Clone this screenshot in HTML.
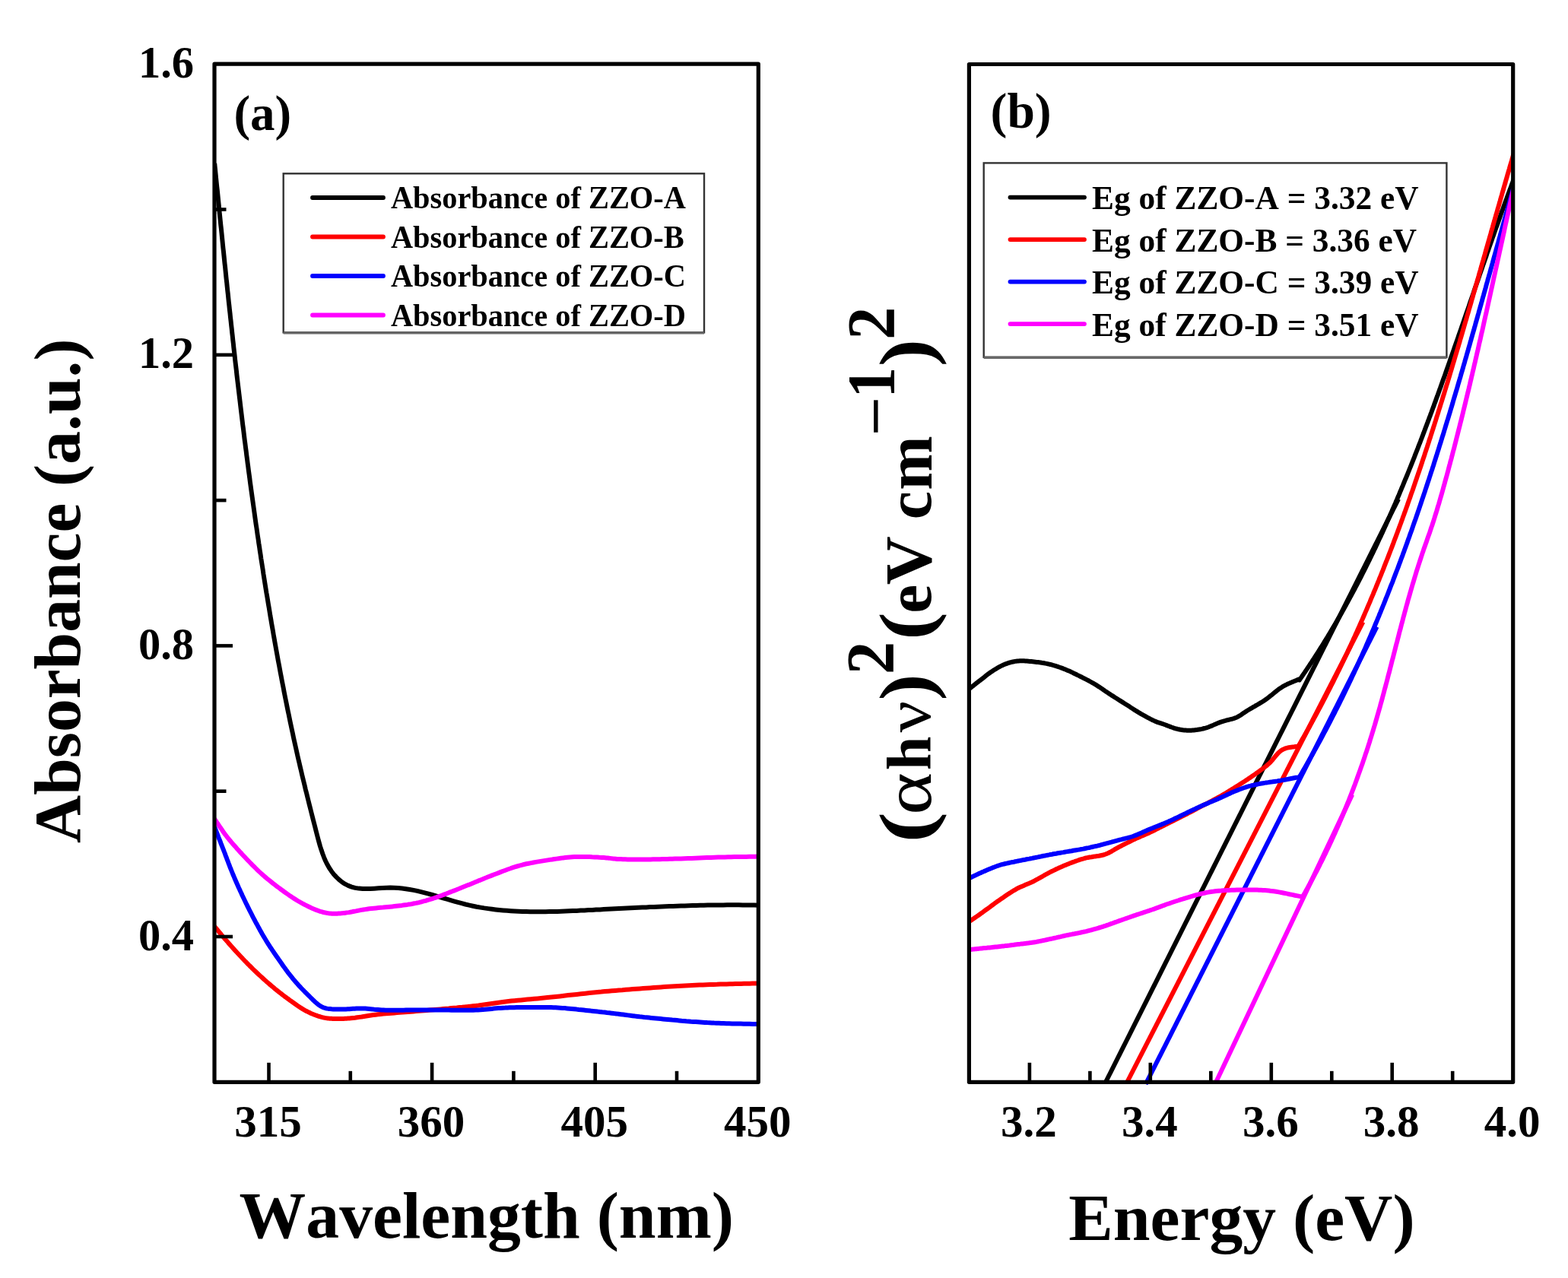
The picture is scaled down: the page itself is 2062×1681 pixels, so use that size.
<!DOCTYPE html><html><head><meta charset="utf-8"><title>Absorbance and band gap</title><style>html,body{margin:0;padding:0;background:#fff;overflow:hidden;}svg{display:block;}text{font-family:'Liberation Serif','Times New Roman',serif;font-weight:bold;font-kerning:none;}</style></head><body>
<svg width="2062" height="1681" viewBox="0 0 2062 1681">
<rect width="2062" height="1681" fill="#fff"/>
<g>
<defs><clipPath id="ca"><rect x="282.0" y="84.2" width="715.3" height="1339.1"/></clipPath>
<clipPath id="cb"><rect x="1274.4" y="84.5" width="715.3" height="1343.8"/></clipPath></defs>
<g clip-path="url(#ca)">
<path d="M282.2,214.9 L282.7,220.0 L283.2,225.1 L283.7,230.1 L284.2,235.2 L284.7,240.2 L285.2,245.3 L285.8,250.4 L286.3,255.4 L286.8,260.5 L287.3,265.5 L287.8,270.6 L288.3,275.7 L288.8,280.7 L289.3,285.8 L289.8,290.8 L290.3,295.9 L290.9,301.0 L291.4,306.0 L291.9,311.1 L292.4,316.1 L292.9,321.2 L293.4,326.2 L294.0,331.3 L294.5,336.4 L295.0,341.4 L295.5,346.5 L296.1,351.5 L296.6,356.6 L297.1,361.6 L297.6,366.7 L298.2,371.7 L298.7,376.8 L299.2,381.8 L299.8,386.9 L300.3,392.0 L300.8,397.0 L301.4,402.1 L301.9,407.1 L302.5,412.2 L303.0,417.2 L303.6,422.3 L304.1,427.3 L304.7,432.4 L305.2,437.4 L305.8,442.5 L306.3,447.5 L306.9,452.5 L307.4,457.6 L308.0,462.6 L308.6,467.7 L309.1,472.7 L309.7,477.8 L310.3,482.8 L310.9,487.9 L311.4,492.9 L312.0,498.0 L312.6,503.0 L313.2,508.0 L313.8,513.1 L314.4,518.1 L315.0,523.2 L315.6,528.2 L316.2,533.3 L316.8,538.3 L317.4,543.3 L318.0,548.4 L318.6,553.4 L319.2,558.5 L319.9,563.5 L320.5,568.5 L321.1,573.6 L321.7,578.6 L322.4,583.6 L323.0,588.7 L323.7,593.7 L324.3,598.8 L325.0,603.8 L325.6,608.8 L326.3,613.9 L326.9,618.9 L327.6,623.9 L328.3,629.0 L328.9,634.0 L329.6,639.0 L330.3,644.1 L331.0,649.1 L331.7,654.1 L332.4,659.2 L333.1,664.2 L333.8,669.2 L334.5,674.2 L335.2,679.3 L335.9,684.3 L336.6,689.3 L337.4,694.4 L338.1,699.4 L338.8,704.4 L339.6,709.4 L340.3,714.5 L341.1,719.5 L341.8,724.5 L342.6,729.5 L343.3,734.6 L344.1,739.6 L344.9,744.6 L345.7,749.6 L346.4,754.7 L347.2,759.7 L348.0,764.7 L348.8,769.7 L349.6,774.7 L350.4,779.8 L351.3,784.8 L352.1,789.8 L352.9,794.8 L353.8,799.8 L354.6,804.8 L355.4,809.9 L356.3,814.9 L357.1,819.9 L358.0,824.9 L358.9,829.9 L359.7,834.9 L360.6,839.9 L361.5,845.0 L362.4,850.0 L363.3,855.0 L364.2,860.0 L365.1,865.0 L366.0,870.0 L367.0,875.0 L367.9,880.0 L368.8,885.0 L369.8,890.0 L370.7,895.0 L371.7,900.0 L372.7,905.0 L373.6,910.0 L374.6,915.0 L375.6,920.0 L376.6,924.9 L377.6,929.9 L378.6,934.9 L379.7,939.9 L380.7,944.8 L381.7,949.8 L382.8,954.8 L383.8,959.7 L384.9,964.7 L385.9,969.6 L387.0,974.6 L388.1,979.5 L389.2,984.4 L390.3,989.4 L391.4,994.3 L392.5,999.2 L393.7,1004.1 L394.8,1009.0 L396.0,1013.9 L397.1,1018.8 L398.3,1023.7 L399.5,1028.6 L400.7,1033.5 L401.8,1038.4 L403.1,1043.3 L404.3,1048.2 L405.5,1053.1 L406.7,1058.0 L408.0,1063.0 L409.2,1067.9 L410.5,1072.9 L411.7,1077.8 L413.0,1082.8 L414.3,1087.8 L415.6,1092.9 L416.9,1097.9 L418.2,1103.0 L419.6,1108.1 L421.0,1113.1 L422.6,1118.1 L424.3,1123.0 L426.1,1127.8 L428.1,1132.5 L430.4,1137.1 L432.9,1141.5 L435.7,1145.7 L438.7,1149.7 L442.1,1153.4 L445.7,1156.9 L449.5,1160.0 L453.6,1162.7 L457.9,1164.9 L462.4,1166.6 L467.1,1167.9 L471.9,1168.6 L476.9,1169.0 L482.0,1169.1 L487.1,1169.0 L492.3,1168.7 L497.6,1168.3 L502.8,1168.0 L508.1,1167.7 L513.3,1167.6 L518.5,1167.7 L523.6,1168.1 L528.7,1168.5 L533.8,1169.2 L538.8,1170.0 L543.8,1170.9 L548.7,1171.9 L553.7,1173.1 L558.6,1174.3 L563.5,1175.6 L568.3,1177.0 L573.2,1178.4 L578.1,1179.8 L582.9,1181.3 L587.7,1182.7 L592.6,1184.2 L597.5,1185.6 L602.3,1186.9 L607.2,1188.2 L612.1,1189.5 L617.0,1190.6 L621.9,1191.7 L626.8,1192.7 L631.8,1193.6 L636.7,1194.4 L641.7,1195.1 L646.7,1195.8 L651.7,1196.4 L656.7,1196.9 L661.7,1197.4 L666.8,1197.8 L671.8,1198.2 L676.8,1198.5 L681.9,1198.7 L687.0,1198.9 L692.0,1199.1 L697.1,1199.2 L702.2,1199.2 L707.3,1199.3 L712.4,1199.2 L717.5,1199.2 L722.6,1199.1 L727.7,1199.0 L732.8,1198.9 L737.9,1198.7 L743.0,1198.5 L748.1,1198.3 L753.2,1198.1 L758.4,1197.9 L763.5,1197.6 L768.6,1197.4 L773.7,1197.1 L778.8,1196.9 L783.8,1196.6 L788.9,1196.4 L794.0,1196.1 L799.1,1195.8 L804.2,1195.6 L809.2,1195.3 L814.3,1195.1 L819.4,1194.8 L824.4,1194.6 L829.5,1194.3 L834.6,1194.1 L839.6,1193.8 L844.7,1193.6 L849.8,1193.4 L854.8,1193.1 L859.9,1192.9 L864.9,1192.7 L870.0,1192.5 L875.0,1192.3 L880.1,1192.1 L885.2,1191.9 L890.2,1191.7 L895.3,1191.5 L900.3,1191.4 L905.4,1191.2 L910.5,1191.1 L915.5,1191.0 L920.6,1190.8 L925.7,1190.7 L930.7,1190.6 L935.8,1190.5 L940.9,1190.5 L946.0,1190.4 L951.1,1190.4 L956.2,1190.3 L961.3,1190.3 L966.4,1190.3 L971.5,1190.3 L976.6,1190.4 L981.7,1190.4 L986.8,1190.5 L991.9,1190.6 L997.0,1190.7" fill="none" stroke="#000" stroke-width="6.0" stroke-linejoin="round"/>
<path d="M282.0,1218.5 L283.7,1220.6 L285.5,1222.6 L287.2,1224.7 L288.9,1226.8 L290.6,1228.8 L292.3,1230.9 L294.1,1232.9 L295.8,1235.0 L297.6,1237.1 L299.4,1239.1 L301.2,1241.2 L303.0,1243.3 L305.0,1245.5 L307.0,1247.8 L309.0,1250.0 L311.1,1252.3 L313.2,1254.5 L315.3,1256.8 L317.4,1259.0 L319.5,1261.3 L321.6,1263.5 L323.8,1265.7 L325.9,1267.9 L328.0,1270.0 L330.1,1272.0 L332.1,1274.1 L334.2,1276.1 L336.2,1278.0 L338.3,1280.0 L340.4,1282.0 L342.5,1283.9 L344.6,1285.8 L346.7,1287.7 L348.8,1289.6 L350.9,1291.5 L353.0,1293.3 L355.1,1295.1 L357.1,1296.8 L359.2,1298.5 L361.2,1300.3 L363.3,1302.0 L365.4,1303.6 L367.5,1305.3 L369.6,1306.9 L371.7,1308.6 L373.8,1310.2 L375.9,1311.7 L378.0,1313.3 L380.1,1314.8 L382.1,1316.3 L384.2,1317.8 L386.3,1319.3 L388.4,1320.8 L390.5,1322.3 L392.6,1323.7 L394.7,1325.1 L396.8,1326.4 L398.8,1327.7 L400.9,1328.9 L403.0,1330.0 L404.8,1330.9 L406.7,1331.8 L408.5,1332.7 L410.4,1333.5 L412.2,1334.2 L414.1,1335.0 L415.9,1335.6 L417.7,1336.3 L419.5,1336.8 L421.3,1337.4 L423.0,1337.9 L424.7,1338.3 L426.0,1338.6 L427.3,1338.9 L428.6,1339.1 L429.9,1339.3 L431.1,1339.4 L432.3,1339.6 L433.5,1339.7 L434.8,1339.8 L436.0,1339.8 L437.3,1339.9 L438.6,1339.9 L440.0,1340.0 L441.6,1340.1 L443.3,1340.1 L445.0,1340.1 L446.7,1340.1 L448.4,1340.1 L450.1,1340.0 L451.9,1339.9 L453.7,1339.8 L455.6,1339.7 L457.5,1339.6 L459.4,1339.5 L461.4,1339.3 L464.1,1339.0 L466.8,1338.7 L469.6,1338.3 L472.5,1337.9 L475.5,1337.5 L478.5,1337.0 L481.5,1336.5 L484.6,1336.0 L487.7,1335.5 L490.8,1335.1 L494.0,1334.7 L497.1,1334.3 L500.5,1333.9 L504.0,1333.6 L507.5,1333.3 L511.1,1333.0 L514.7,1332.7 L518.3,1332.4 L521.9,1332.1 L525.5,1331.8 L529.2,1331.6 L532.8,1331.3 L536.4,1331.0 L540.0,1330.7 L543.6,1330.4 L547.2,1330.1 L550.7,1329.8 L554.3,1329.5 L557.9,1329.2 L561.5,1328.9 L565.0,1328.6 L568.6,1328.3 L572.2,1328.0 L575.8,1327.7 L579.3,1327.4 L582.9,1327.1 L586.5,1326.8 L590.0,1326.5 L593.6,1326.1 L597.2,1325.8 L600.7,1325.5 L604.3,1325.1 L607.9,1324.8 L611.4,1324.4 L615.0,1324.1 L618.6,1323.7 L622.1,1323.3 L625.7,1322.9 L629.3,1322.5 L632.8,1322.0 L636.3,1321.5 L639.9,1321.0 L643.4,1320.5 L646.9,1320.0 L650.4,1319.5 L654.0,1319.0 L657.6,1318.5 L661.2,1318.0 L664.9,1317.5 L668.6,1317.1 L672.7,1316.6 L676.8,1316.2 L681.0,1315.8 L685.2,1315.4 L689.4,1315.0 L693.7,1314.6 L698.0,1314.2 L702.3,1313.8 L706.7,1313.4 L711.1,1313.0 L715.6,1312.6 L720.1,1312.1 L725.3,1311.6 L730.7,1311.0 L736.1,1310.4 L741.6,1309.8 L747.2,1309.1 L752.9,1308.5 L758.5,1307.9 L764.1,1307.3 L769.7,1306.7 L775.2,1306.1 L780.6,1305.5 L785.9,1305.0 L790.7,1304.6 L795.4,1304.1 L800.1,1303.7 L804.7,1303.3 L809.3,1302.9 L813.8,1302.5 L818.4,1302.2 L822.9,1301.8 L827.5,1301.4 L832.0,1301.1 L836.6,1300.7 L841.2,1300.4 L845.8,1300.1 L850.4,1299.7 L855.0,1299.4 L859.6,1299.0 L864.2,1298.7 L868.8,1298.4 L873.4,1298.1 L878.0,1297.8 L882.6,1297.5 L887.2,1297.2 L891.8,1297.0 L896.4,1296.7 L901.0,1296.5 L905.7,1296.2 L910.3,1296.0 L915.0,1295.8 L919.7,1295.6 L924.4,1295.4 L929.0,1295.3 L933.7,1295.1 L938.3,1294.9 L942.8,1294.8 L947.3,1294.6 L951.7,1294.5 L955.6,1294.4 L959.5,1294.3 L963.3,1294.2 L967.1,1294.1 L970.9,1294.0 L974.6,1293.9 L978.4,1293.8 L982.1,1293.7 L985.8,1293.7 L989.5,1293.6 L993.2,1293.5 L997.0,1293.4" fill="none" stroke="#f00" stroke-width="6.0" stroke-linejoin="round"/>
<path d="M282.0,1087.5 L283.1,1090.2 L284.1,1092.9 L285.2,1095.7 L286.3,1098.4 L287.3,1101.1 L288.4,1103.8 L289.5,1106.5 L290.5,1109.3 L291.6,1112.0 L292.6,1114.7 L293.7,1117.3 L294.7,1120.0 L295.7,1122.5 L296.6,1125.1 L297.6,1127.6 L298.5,1130.1 L299.5,1132.6 L300.4,1135.1 L301.4,1137.6 L302.3,1140.1 L303.3,1142.5 L304.3,1145.0 L305.3,1147.5 L306.3,1150.0 L307.4,1152.5 L308.4,1155.0 L309.5,1157.5 L310.6,1160.0 L311.7,1162.5 L312.8,1165.0 L313.9,1167.5 L315.1,1170.0 L316.2,1172.5 L317.4,1175.0 L318.5,1177.5 L319.7,1180.0 L320.9,1182.5 L322.1,1185.0 L323.3,1187.6 L324.6,1190.1 L325.8,1192.6 L327.1,1195.2 L328.3,1197.7 L329.6,1200.2 L330.9,1202.7 L332.1,1205.1 L333.4,1207.6 L334.7,1210.0 L335.9,1212.3 L337.1,1214.6 L338.4,1216.8 L339.6,1219.1 L340.8,1221.3 L342.0,1223.6 L343.3,1225.8 L344.5,1228.0 L345.8,1230.2 L347.1,1232.4 L348.4,1234.5 L349.7,1236.7 L351.0,1238.8 L352.3,1241.0 L353.7,1243.1 L355.0,1245.2 L356.4,1247.2 L357.8,1249.3 L359.2,1251.4 L360.6,1253.5 L362.0,1255.5 L363.4,1257.6 L364.9,1259.6 L366.3,1261.7 L367.8,1263.8 L369.3,1265.9 L370.7,1268.0 L372.2,1270.2 L373.7,1272.3 L375.3,1274.4 L376.8,1276.5 L378.3,1278.6 L379.9,1280.7 L381.5,1282.7 L383.1,1284.7 L384.7,1286.7 L386.3,1288.6 L387.9,1290.5 L389.5,1292.4 L391.2,1294.2 L392.8,1296.1 L394.5,1297.9 L396.2,1299.7 L397.9,1301.5 L399.6,1303.2 L401.3,1305.0 L403.0,1306.6 L404.7,1308.3 L406.3,1309.9 L407.9,1311.5 L409.5,1313.1 L411.1,1314.7 L412.7,1316.2 L414.3,1317.8 L416.0,1319.2 L417.6,1320.6 L419.3,1321.9 L421.1,1323.1 L422.9,1324.1 L424.7,1325.0 L426.5,1325.7 L428.3,1326.2 L430.2,1326.6 L432.1,1326.9 L434.1,1327.1 L436.1,1327.3 L438.1,1327.4 L440.1,1327.4 L442.1,1327.4 L444.1,1327.4 L446.2,1327.5 L448.2,1327.5 L450.4,1327.5 L452.6,1327.5 L454.9,1327.4 L457.2,1327.3 L459.5,1327.2 L461.8,1327.0 L464.1,1326.8 L466.4,1326.7 L468.7,1326.5 L471.1,1326.4 L473.4,1326.4 L475.7,1326.4 L478.1,1326.5 L480.4,1326.6 L482.7,1326.8 L485.1,1327.0 L487.4,1327.2 L489.8,1327.4 L492.1,1327.7 L494.5,1327.9 L496.9,1328.1 L499.3,1328.3 L501.8,1328.5 L504.3,1328.6 L507.1,1328.7 L510.0,1328.7 L512.9,1328.8 L515.8,1328.8 L518.7,1328.8 L521.7,1328.8 L524.7,1328.7 L527.7,1328.7 L530.8,1328.7 L533.8,1328.6 L536.9,1328.6 L540.0,1328.6 L543.4,1328.6 L546.9,1328.6 L550.4,1328.6 L554.0,1328.6 L557.6,1328.6 L561.2,1328.6 L564.8,1328.6 L568.5,1328.6 L572.1,1328.6 L575.7,1328.6 L579.3,1328.6 L582.9,1328.6 L586.5,1328.6 L590.1,1328.6 L593.7,1328.7 L597.3,1328.7 L600.9,1328.8 L604.5,1328.8 L608.1,1328.8 L611.7,1328.8 L615.3,1328.8 L618.8,1328.8 L622.3,1328.7 L625.7,1328.6 L628.8,1328.4 L631.8,1328.3 L634.9,1328.0 L637.8,1327.8 L640.8,1327.5 L643.8,1327.2 L646.7,1326.9 L649.6,1326.6 L652.5,1326.3 L655.5,1326.1 L658.4,1325.9 L661.4,1325.7 L664.4,1325.6 L667.4,1325.4 L670.3,1325.3 L673.3,1325.3 L676.3,1325.2 L679.3,1325.1 L682.3,1325.1 L685.3,1325.1 L688.3,1325.1 L691.2,1325.0 L694.2,1325.0 L697.1,1325.0 L699.9,1325.0 L702.7,1325.0 L705.5,1324.9 L708.3,1324.9 L711.1,1324.9 L713.8,1324.9 L716.6,1324.9 L719.4,1325.0 L722.1,1325.0 L724.9,1325.1 L727.8,1325.2 L730.6,1325.3 L733.6,1325.5 L736.6,1325.7 L739.7,1325.9 L742.7,1326.1 L745.8,1326.4 L748.9,1326.7 L752.0,1327.0 L755.1,1327.3 L758.2,1327.6 L761.2,1328.0 L764.3,1328.3 L767.4,1328.6 L770.5,1328.9 L773.5,1329.2 L776.6,1329.6 L779.7,1329.9 L782.8,1330.2 L785.9,1330.6 L788.9,1330.9 L792.0,1331.3 L795.1,1331.6 L798.2,1332.0 L801.2,1332.3 L804.3,1332.7 L807.4,1333.1 L810.5,1333.4 L813.5,1333.8 L816.6,1334.2 L819.7,1334.6 L822.8,1335.0 L825.8,1335.4 L828.9,1335.8 L832.0,1336.2 L835.1,1336.6 L838.1,1336.9 L841.2,1337.3 L844.3,1337.6 L847.3,1338.0 L850.4,1338.3 L853.5,1338.6 L856.5,1338.9 L859.6,1339.2 L862.7,1339.5 L865.7,1339.8 L868.8,1340.1 L871.9,1340.4 L874.9,1340.7 L878.0,1341.0 L881.1,1341.3 L884.1,1341.6 L887.2,1341.8 L890.3,1342.1 L893.4,1342.4 L896.4,1342.7 L899.5,1342.9 L902.6,1343.2 L905.7,1343.4 L908.7,1343.7 L911.8,1343.9 L914.9,1344.1 L918.0,1344.3 L921.0,1344.5 L924.0,1344.7 L927.0,1344.9 L930.0,1345.1 L933.1,1345.2 L936.1,1345.4 L939.1,1345.6 L942.2,1345.7 L945.3,1345.8 L948.5,1346.0 L951.7,1346.1 L955.3,1346.2 L959.0,1346.3 L962.7,1346.4 L966.4,1346.5 L970.2,1346.6 L974.1,1346.6 L977.9,1346.7 L981.7,1346.8 L985.6,1346.8 L989.4,1346.9 L993.2,1346.9 L997.0,1347.0" fill="none" stroke="#00f" stroke-width="6.0" stroke-linejoin="round"/>
<path d="M282.0,1077.0 L283.3,1078.9 L284.6,1080.8 L285.9,1082.8 L287.2,1084.7 L288.5,1086.6 L289.8,1088.5 L291.1,1090.4 L292.4,1092.3 L293.7,1094.3 L295.1,1096.2 L296.5,1098.1 L298.0,1100.0 L299.6,1102.1 L301.3,1104.2 L303.1,1106.3 L304.8,1108.4 L306.6,1110.5 L308.4,1112.5 L310.3,1114.6 L312.1,1116.7 L314.0,1118.8 L315.9,1120.9 L317.8,1122.9 L319.7,1125.0 L321.7,1127.1 L323.7,1129.3 L325.7,1131.4 L327.8,1133.5 L329.9,1135.7 L332.0,1137.8 L334.1,1139.9 L336.2,1142.0 L338.3,1144.1 L340.4,1146.1 L342.6,1148.1 L344.7,1150.0 L346.7,1151.8 L348.8,1153.6 L350.8,1155.3 L352.9,1157.0 L355.0,1158.7 L357.1,1160.4 L359.2,1162.1 L361.3,1163.7 L363.4,1165.3 L365.5,1166.9 L367.6,1168.4 L369.7,1170.0 L371.8,1171.5 L373.8,1173.0 L375.9,1174.5 L377.9,1175.9 L380.0,1177.4 L382.1,1178.8 L384.2,1180.2 L386.3,1181.6 L388.4,1182.9 L390.5,1184.2 L392.6,1185.5 L394.7,1186.7 L396.8,1187.8 L398.9,1189.0 L401.0,1190.1 L403.1,1191.2 L405.3,1192.3 L407.4,1193.3 L409.5,1194.3 L411.6,1195.2 L413.7,1196.1 L415.8,1196.9 L417.8,1197.6 L419.7,1198.3 L421.2,1198.8 L422.6,1199.2 L424.0,1199.6 L425.4,1200.0 L426.8,1200.3 L428.1,1200.6 L429.5,1200.8 L430.8,1201.1 L432.2,1201.3 L433.5,1201.4 L434.9,1201.6 L436.3,1201.7 L437.8,1201.8 L439.2,1201.8 L440.6,1201.8 L442.1,1201.8 L443.5,1201.7 L445.0,1201.6 L446.5,1201.5 L448.0,1201.4 L449.5,1201.2 L451.1,1201.1 L452.7,1200.9 L454.3,1200.7 L456.4,1200.4 L458.7,1200.1 L460.9,1199.7 L463.2,1199.3 L465.6,1198.8 L468.0,1198.4 L470.4,1197.9 L472.9,1197.4 L475.4,1196.9 L477.9,1196.5 L480.4,1196.1 L482.9,1195.7 L485.7,1195.3 L488.7,1195.0 L491.6,1194.7 L494.6,1194.4 L497.7,1194.1 L500.7,1193.8 L503.8,1193.6 L506.9,1193.3 L509.9,1193.0 L512.8,1192.7 L515.8,1192.4 L518.6,1192.1 L521.1,1191.8 L523.6,1191.5 L526.1,1191.2 L528.5,1190.9 L530.9,1190.5 L533.3,1190.2 L535.7,1189.9 L538.0,1189.5 L540.4,1189.2 L542.6,1188.8 L544.9,1188.3 L547.1,1187.9 L549.0,1187.5 L550.9,1187.1 L552.7,1186.6 L554.5,1186.2 L556.3,1185.7 L558.1,1185.2 L559.8,1184.8 L561.6,1184.2 L563.3,1183.7 L565.1,1183.2 L566.8,1182.7 L568.6,1182.1 L570.4,1181.5 L572.2,1180.9 L573.9,1180.3 L575.6,1179.7 L577.4,1179.1 L579.1,1178.4 L580.9,1177.8 L582.7,1177.1 L584.5,1176.4 L586.3,1175.7 L588.1,1175.0 L590.0,1174.3 L592.2,1173.4 L594.5,1172.5 L596.9,1171.6 L599.2,1170.7 L601.6,1169.7 L604.1,1168.8 L606.5,1167.8 L608.9,1166.8 L611.4,1165.8 L613.8,1164.8 L616.2,1163.9 L618.6,1162.9 L621.0,1161.9 L623.3,1161.0 L625.6,1160.0 L628.0,1159.1 L630.3,1158.1 L632.6,1157.2 L635.0,1156.2 L637.3,1155.2 L639.7,1154.3 L642.1,1153.3 L644.6,1152.4 L647.1,1151.4 L649.9,1150.3 L652.8,1149.2 L655.7,1148.1 L658.7,1146.9 L661.6,1145.8 L664.6,1144.7 L667.7,1143.5 L670.7,1142.5 L673.7,1141.4 L676.8,1140.4 L679.9,1139.5 L682.9,1138.6 L686.0,1137.8 L689.0,1137.0 L692.1,1136.3 L695.2,1135.7 L698.3,1135.1 L701.5,1134.5 L704.6,1133.9 L707.7,1133.4 L710.8,1132.9 L713.9,1132.4 L717.0,1131.9 L720.1,1131.4 L723.0,1130.9 L726.0,1130.5 L728.9,1130.0 L731.8,1129.6 L734.7,1129.2 L737.6,1128.8 L740.5,1128.4 L743.4,1128.1 L746.3,1127.8 L749.3,1127.5 L752.2,1127.3 L755.2,1127.1 L758.4,1127.0 L761.7,1126.9 L765.1,1126.9 L768.5,1126.9 L771.9,1127.0 L775.3,1127.1 L778.7,1127.3 L782.0,1127.4 L785.2,1127.6 L788.3,1127.8 L791.2,1127.9 L794.0,1128.1 L795.8,1128.2 L797.5,1128.4 L799.2,1128.5 L800.7,1128.7 L802.2,1128.9 L803.7,1129.1 L805.2,1129.3 L806.7,1129.4 L808.2,1129.6 L809.9,1129.7 L811.6,1129.9 L813.4,1130.0 L816.2,1130.1 L819.1,1130.2 L822.2,1130.3 L825.3,1130.4 L828.6,1130.4 L832.0,1130.4 L835.4,1130.5 L838.8,1130.5 L842.2,1130.5 L845.6,1130.4 L848.9,1130.4 L852.2,1130.4 L855.4,1130.4 L858.6,1130.3 L861.7,1130.3 L864.8,1130.2 L868.0,1130.2 L871.1,1130.1 L874.3,1130.0 L877.5,1129.9 L880.7,1129.8 L884.1,1129.7 L887.5,1129.6 L891.0,1129.5 L895.5,1129.4 L900.1,1129.2 L904.9,1129.0 L909.7,1128.9 L914.7,1128.7 L919.7,1128.5 L924.8,1128.3 L929.8,1128.1 L934.8,1127.9 L939.7,1127.8 L944.5,1127.6 L949.2,1127.5 L953.3,1127.4 L957.4,1127.3 L961.5,1127.2 L965.5,1127.1 L969.4,1127.1 L973.4,1127.0 L977.3,1126.9 L981.2,1126.9 L985.2,1126.8 L989.1,1126.7 L993.0,1126.7 L997.0,1126.6" fill="none" stroke="#f0f" stroke-width="6.0" stroke-linejoin="round"/>
</g>
<g clip-path="url(#cb)">
<path d="M1454.2,1423.0 L1839.0,656.4" stroke="#000" stroke-width="6.0" fill="none"/>
<path d="M1482.4,1423.0 L1792.4,818.2" stroke="#f00" stroke-width="6.0" fill="none"/>
<path d="M1506.6,1426.0 L1810.6,824.3" stroke="#00f" stroke-width="6.0" fill="none"/>
<path d="M1598.8,1424.0 L1778.2,1045.2" stroke="#f0f" stroke-width="6.0" fill="none"/>
<path d="M1274.6,906.1 L1275.8,905.1 L1277.1,904.1 L1278.3,903.1 L1279.6,902.2 L1280.8,901.2 L1282.1,900.2 L1283.3,899.2 L1284.6,898.2 L1285.8,897.2 L1287.1,896.3 L1288.3,895.3 L1289.6,894.3 L1290.9,893.3 L1292.2,892.3 L1293.5,891.3 L1294.8,890.3 L1296.1,889.2 L1297.4,888.2 L1298.7,887.2 L1300.0,886.2 L1301.3,885.3 L1302.7,884.3 L1304.0,883.4 L1305.4,882.5 L1306.8,881.6 L1308.1,880.8 L1309.5,879.9 L1310.9,879.1 L1312.3,878.2 L1313.8,877.4 L1315.2,876.6 L1316.6,875.9 L1318.1,875.2 L1319.5,874.5 L1320.9,873.9 L1322.4,873.3 L1323.8,872.8 L1325.2,872.3 L1326.5,871.9 L1327.9,871.5 L1329.3,871.1 L1330.7,870.8 L1332.1,870.5 L1333.5,870.2 L1335.0,869.9 L1336.4,869.7 L1337.9,869.5 L1339.4,869.4 L1341.1,869.3 L1342.9,869.2 L1344.8,869.2 L1346.7,869.3 L1348.5,869.4 L1350.4,869.5 L1352.4,869.7 L1354.3,869.9 L1356.2,870.1 L1358.0,870.3 L1359.9,870.5 L1361.7,870.7 L1363.4,870.9 L1365.1,871.1 L1366.7,871.3 L1368.4,871.5 L1370.0,871.8 L1371.6,872.0 L1373.2,872.3 L1374.8,872.6 L1376.5,872.9 L1378.1,873.3 L1379.7,873.6 L1381.3,874.0 L1382.9,874.4 L1384.6,874.9 L1386.2,875.3 L1387.9,875.8 L1389.5,876.4 L1391.1,876.9 L1392.8,877.5 L1394.4,878.0 L1396.0,878.6 L1397.7,879.2 L1399.3,879.9 L1400.9,880.5 L1402.6,881.2 L1404.2,881.9 L1405.9,882.6 L1407.5,883.3 L1409.2,884.1 L1410.8,884.9 L1412.4,885.7 L1414.1,886.5 L1415.7,887.3 L1417.3,888.1 L1419.0,888.9 L1420.6,889.7 L1422.2,890.5 L1423.9,891.4 L1425.5,892.2 L1427.2,893.0 L1428.8,893.9 L1430.5,894.7 L1432.1,895.6 L1433.7,896.5 L1435.3,897.4 L1437.0,898.3 L1438.6,899.2 L1440.2,900.2 L1441.9,901.2 L1443.5,902.3 L1445.2,903.3 L1446.8,904.4 L1448.4,905.5 L1450.1,906.6 L1451.7,907.8 L1453.3,908.9 L1455.0,910.0 L1456.6,911.1 L1458.3,912.2 L1459.9,913.3 L1461.5,914.4 L1463.2,915.4 L1464.8,916.4 L1466.4,917.5 L1468.1,918.5 L1469.7,919.5 L1471.3,920.6 L1473.0,921.6 L1474.6,922.6 L1476.2,923.6 L1477.9,924.7 L1479.5,925.7 L1481.1,926.7 L1482.8,927.8 L1484.4,928.8 L1486.0,929.9 L1487.6,931.0 L1489.3,932.0 L1490.9,933.1 L1492.5,934.1 L1494.2,935.1 L1495.8,936.1 L1497.4,937.1 L1499.1,938.1 L1500.7,939.1 L1502.4,940.0 L1504.1,941.0 L1505.8,941.9 L1507.5,942.9 L1509.2,943.8 L1510.9,944.7 L1512.6,945.6 L1514.2,946.4 L1515.8,947.2 L1517.3,947.9 L1518.8,948.6 L1519.8,949.0 L1520.8,949.4 L1521.7,949.8 L1522.6,950.1 L1523.5,950.4 L1524.4,950.7 L1525.3,951.0 L1526.2,951.2 L1527.1,951.5 L1528.0,951.8 L1529.0,952.2 L1530.0,952.5 L1531.4,953.0 L1532.8,953.5 L1534.3,954.1 L1535.8,954.7 L1537.4,955.3 L1538.9,955.9 L1540.5,956.5 L1542.1,957.0 L1543.7,957.6 L1545.3,958.1 L1546.9,958.5 L1548.4,958.9 L1549.8,959.2 L1551.2,959.5 L1552.5,959.8 L1553.9,960.0 L1555.3,960.2 L1556.6,960.4 L1558.0,960.5 L1559.4,960.6 L1560.7,960.7 L1562.1,960.8 L1563.6,960.8 L1565.0,960.8 L1566.6,960.7 L1568.3,960.6 L1569.9,960.5 L1571.6,960.3 L1573.3,960.1 L1575.0,959.8 L1576.8,959.5 L1578.5,959.2 L1580.2,958.9 L1581.9,958.5 L1583.6,958.0 L1585.3,957.6 L1587.1,957.1 L1588.9,956.5 L1590.6,955.8 L1592.4,955.1 L1594.2,954.4 L1595.9,953.6 L1597.7,952.8 L1599.5,952.1 L1601.2,951.3 L1603.0,950.6 L1604.8,949.9 L1606.5,949.3 L1608.1,948.8 L1609.8,948.3 L1611.5,947.9 L1613.1,947.4 L1614.8,947.0 L1616.5,946.6 L1618.1,946.2 L1619.7,945.8 L1621.3,945.4 L1622.9,944.9 L1624.4,944.3 L1625.9,943.7 L1627.2,943.1 L1628.5,942.4 L1629.7,941.7 L1630.9,941.0 L1632.1,940.2 L1633.2,939.4 L1634.4,938.6 L1635.6,937.8 L1636.8,937.0 L1638.0,936.2 L1639.3,935.3 L1640.6,934.5 L1642.3,933.5 L1644.1,932.4 L1646.0,931.3 L1647.9,930.2 L1649.9,929.1 L1651.8,927.9 L1653.8,926.8 L1655.8,925.6 L1657.8,924.4 L1659.8,923.2 L1661.7,922.0 L1663.6,920.7 L1665.6,919.3 L1667.5,917.9 L1669.4,916.4 L1671.3,914.8 L1673.3,913.3 L1675.2,911.7 L1677.1,910.2 L1679.0,908.6 L1680.9,907.2 L1682.8,905.7 L1684.8,904.4 L1686.7,903.2 L1688.5,902.2 L1690.2,901.3 L1692.0,900.4 L1693.7,899.5 L1695.5,898.8 L1697.3,898.0 L1699.0,897.3 L1700.8,896.5 L1702.6,895.8 L1704.4,895.1 L1706.1,894.3 L1707.9,893.5 L1708.9,894.4 L1710.3,892.4 L1711.7,890.4 L1713.0,888.4 L1714.4,886.4 L1715.8,884.4 L1717.1,882.4 L1718.5,880.4 L1719.8,878.4 L1721.2,876.3 L1722.5,874.3 L1723.9,872.3 L1725.2,870.3 L1726.5,868.2 L1727.9,866.2 L1729.2,864.2 L1730.5,862.1 L1731.8,860.1 L1733.1,858.1 L1734.4,856.0 L1735.7,854.0 L1737.0,851.9 L1738.3,849.9 L1739.6,847.8 L1740.8,845.8 L1742.1,843.7 L1743.4,841.6 L1744.6,839.6 L1745.9,837.5 L1747.1,835.4 L1748.4,833.4 L1749.6,831.3 L1750.9,829.2 L1752.1,827.1 L1753.3,825.0 L1754.5,823.0 L1755.8,820.9 L1757.0,818.8 L1758.2,816.7 L1759.4,814.6 L1760.6,812.5 L1761.8,810.4 L1763.0,808.3 L1764.2,806.2 L1765.4,804.1 L1766.6,802.0 L1767.7,799.9 L1768.9,797.8 L1770.1,795.7 L1771.2,793.6 L1772.4,791.5 L1773.5,789.3 L1774.7,787.2 L1775.8,785.1 L1777.0,783.0 L1778.1,780.8 L1779.3,778.7 L1780.4,776.6 L1781.5,774.5 L1782.6,772.3 L1783.8,770.2 L1784.9,768.1 L1786.0,765.9 L1787.1,763.8 L1788.2,761.6 L1789.3,759.5 L1790.4,757.3 L1791.5,755.2 L1792.6,753.0 L1793.7,750.9 L1794.8,748.7 L1795.8,746.6 L1796.9,744.4 L1798.0,742.2 L1799.0,740.1 L1800.1,737.9 L1801.2,735.8 L1802.2,733.6 L1803.3,731.4 L1804.3,729.3 L1805.4,727.1 L1806.4,724.9 L1807.5,722.7 L1808.5,720.6 L1809.5,718.4 L1810.6,716.2 L1811.6,714.0 L1812.6,711.8 L1813.6,709.6 L1814.6,707.5 L1815.7,705.3 L1816.7,703.1 L1817.7,700.9 L1818.7,698.7 L1819.7,696.5 L1820.7,694.3 L1821.7,692.1 L1822.7,689.9 L1823.6,687.7 L1824.6,685.5 L1825.6,683.3 L1826.6,681.1 L1827.6,678.9 L1828.5,676.7 L1829.5,674.5 L1830.5,672.2 L1831.4,670.0 L1832.4,667.8 L1833.4,665.6 L1834.3,663.4 L1835.3,661.2 L1836.2,658.9 L1837.2,656.7 L1838.1,654.5 L1839.1,652.3 L1840.0,650.1 L1840.9,647.8 L1841.9,645.6 L1842.8,643.4 L1843.7,641.1 L1844.7,638.9 L1845.6,636.7 L1846.5,634.4 L1847.4,632.2 L1848.3,630.0 L1849.3,627.7 L1850.2,625.5 L1851.1,623.3 L1852.0,621.0 L1852.9,618.8 L1853.8,616.5 L1854.7,614.3 L1855.6,612.1 L1856.5,609.8 L1857.4,607.6 L1858.3,605.3 L1859.2,603.1 L1860.1,600.8 L1860.9,598.6 L1861.8,596.3 L1862.7,594.1 L1863.6,591.8 L1864.5,589.5 L1865.3,587.3 L1866.2,585.0 L1867.1,582.8 L1868.0,580.5 L1868.8,578.3 L1869.7,576.0 L1870.6,573.7 L1871.4,571.5 L1872.3,569.2 L1873.1,567.0 L1874.0,564.7 L1874.8,562.4 L1875.7,560.2 L1876.5,557.9 L1877.4,555.6 L1878.2,553.4 L1879.1,551.1 L1879.9,548.8 L1880.8,546.6 L1881.6,544.3 L1882.5,542.0 L1883.3,539.7 L1884.1,537.5 L1885.0,535.2 L1885.8,532.9 L1886.6,530.6 L1887.5,528.4 L1888.3,526.1 L1889.1,523.8 L1889.9,521.5 L1890.8,519.3 L1891.6,517.0 L1892.4,514.7 L1893.2,512.4 L1894.1,510.1 L1894.9,507.9 L1895.7,505.6 L1896.5,503.3 L1897.3,501.0 L1898.1,498.7 L1899.0,496.5 L1899.8,494.2 L1900.6,491.9 L1901.4,489.6 L1902.2,487.3 L1903.0,485.0 L1903.8,482.8 L1904.6,480.5 L1905.4,478.2 L1906.2,475.9 L1907.0,473.6 L1907.8,471.3 L1908.6,469.0 L1909.4,466.8 L1910.2,464.5 L1911.0,462.2 L1911.8,459.9 L1912.6,457.6 L1913.4,455.3 L1914.2,453.0 L1915.0,450.7 L1915.8,448.5 L1916.6,446.2 L1917.4,443.9 L1918.2,441.6 L1919.0,439.3 L1919.8,437.0 L1920.6,434.7 L1921.4,432.4 L1922.2,430.1 L1923.0,427.9 L1923.8,425.6 L1924.6,423.3 L1925.3,421.0 L1926.1,418.7 L1926.9,416.4 L1927.7,414.1 L1928.5,411.8 L1929.3,409.5 L1930.1,407.3 L1930.9,405.0 L1931.7,402.7 L1932.4,400.4 L1933.2,398.1 L1934.0,395.8 L1934.8,393.5 L1935.6,391.2 L1936.4,389.0 L1937.2,386.7 L1938.0,384.4 L1938.7,382.1 L1939.5,379.8 L1940.3,377.5 L1941.1,375.2 L1941.9,372.9 L1942.7,370.7 L1943.5,368.4 L1944.3,366.1 L1945.1,363.8 L1945.8,361.5 L1946.6,359.2 L1947.4,356.9 L1948.2,354.7 L1949.0,352.4 L1949.8,350.1 L1950.6,347.8 L1951.4,345.5 L1952.2,343.2 L1953.0,341.0 L1953.8,338.7 L1954.6,336.4 L1955.3,334.1 L1956.1,331.8 L1956.9,329.6 L1957.7,327.3 L1958.5,325.0 L1959.3,322.7 L1960.1,320.4 L1960.9,318.2 L1961.7,315.9 L1962.5,313.6 L1963.3,311.3 L1964.1,309.1 L1964.9,306.8 L1965.7,304.5 L1966.5,302.3 L1967.3,300.0 L1968.2,297.7 L1969.0,295.4 L1969.8,293.2 L1970.6,290.9 L1971.4,288.6 L1972.2,286.4 L1973.0,284.1 L1973.8,281.8 L1974.6,279.6 L1975.4,277.3 L1976.3,275.0 L1977.1,272.8 L1977.9,270.5 L1978.7,268.2 L1979.5,266.0 L1980.4,263.7 L1981.2,261.5 L1982.0,259.2 L1982.8,257.0 L1983.7,254.7 L1984.5,252.4 L1985.3,250.2 L1986.2,247.9 L1987.0,245.7 L1987.8,243.4 L1988.7,241.2 L1989.5,238.9 L1990.3,236.7 L1991.2,234.4 L1992.0,232.2" fill="none" stroke="#000" stroke-width="6.0" stroke-linejoin="round"/>
<path d="M1275.6,1211.6 L1277.0,1210.6 L1278.4,1209.7 L1279.7,1208.7 L1281.1,1207.8 L1282.4,1206.8 L1283.8,1205.9 L1285.2,1204.9 L1286.6,1204.0 L1288.0,1203.0 L1289.4,1202.0 L1290.8,1200.9 L1292.3,1199.9 L1294.0,1198.6 L1295.8,1197.3 L1297.6,1196.0 L1299.5,1194.7 L1301.4,1193.3 L1303.2,1191.9 L1305.1,1190.5 L1307.0,1189.1 L1308.9,1187.7 L1310.8,1186.3 L1312.7,1185.0 L1314.6,1183.7 L1316.4,1182.4 L1318.3,1181.2 L1320.1,1179.9 L1322.0,1178.6 L1323.8,1177.3 L1325.7,1176.1 L1327.5,1174.9 L1329.4,1173.7 L1331.2,1172.5 L1333.1,1171.4 L1335.0,1170.3 L1336.9,1169.2 L1338.7,1168.2 L1340.6,1167.3 L1342.4,1166.5 L1344.3,1165.7 L1346.2,1164.9 L1348.0,1164.1 L1349.9,1163.3 L1351.8,1162.5 L1353.6,1161.8 L1355.5,1160.9 L1357.4,1160.1 L1359.2,1159.2 L1361.1,1158.2 L1362.9,1157.2 L1364.8,1156.2 L1366.6,1155.2 L1368.5,1154.1 L1370.3,1153.1 L1372.2,1152.0 L1374.0,1150.9 L1375.9,1149.9 L1377.8,1148.9 L1379.6,1147.9 L1381.5,1146.9 L1383.3,1146.0 L1385.2,1145.1 L1387.1,1144.2 L1388.9,1143.3 L1390.8,1142.4 L1392.6,1141.6 L1394.5,1140.8 L1396.4,1139.9 L1398.3,1139.1 L1400.1,1138.3 L1402.0,1137.6 L1403.9,1136.8 L1405.7,1136.1 L1407.6,1135.3 L1409.4,1134.6 L1411.2,1133.9 L1413.0,1133.3 L1414.8,1132.6 L1416.7,1132.0 L1418.5,1131.3 L1420.4,1130.7 L1422.3,1130.1 L1424.2,1129.6 L1426.2,1129.0 L1428.4,1128.4 L1430.7,1128.0 L1433.1,1127.5 L1435.5,1127.2 L1437.9,1126.8 L1440.4,1126.4 L1442.8,1126.1 L1445.2,1125.7 L1447.5,1125.2 L1449.8,1124.7 L1452.0,1124.2 L1454.0,1123.5 L1455.6,1122.9 L1457.1,1122.2 L1458.5,1121.5 L1459.9,1120.8 L1461.3,1120.1 L1462.6,1119.3 L1463.9,1118.5 L1465.2,1117.7 L1466.5,1116.9 L1467.9,1116.1 L1469.3,1115.3 L1470.8,1114.5 L1472.5,1113.6 L1474.3,1112.7 L1476.2,1111.7 L1478.0,1110.8 L1479.9,1109.8 L1481.8,1108.9 L1483.7,1107.9 L1485.7,1107.0 L1487.5,1106.1 L1489.4,1105.1 L1491.3,1104.3 L1493.1,1103.4 L1494.7,1102.6 L1496.4,1101.9 L1498.0,1101.2 L1499.5,1100.5 L1501.1,1099.8 L1502.7,1099.2 L1504.3,1098.5 L1505.9,1097.8 L1507.4,1097.1 L1509.0,1096.4 L1510.7,1095.7 L1512.3,1094.9 L1514.1,1094.0 L1515.9,1093.2 L1517.8,1092.3 L1519.6,1091.3 L1521.5,1090.4 L1523.4,1089.5 L1525.2,1088.5 L1527.1,1087.6 L1529.0,1086.6 L1530.9,1085.7 L1532.7,1084.7 L1534.6,1083.8 L1536.5,1082.9 L1538.3,1081.9 L1540.2,1081.0 L1542.0,1080.1 L1543.9,1079.2 L1545.8,1078.2 L1547.6,1077.3 L1549.5,1076.4 L1551.3,1075.4 L1553.2,1074.5 L1555.0,1073.5 L1556.9,1072.6 L1558.8,1071.6 L1560.6,1070.7 L1562.5,1069.7 L1564.3,1068.7 L1566.2,1067.8 L1568.1,1066.8 L1569.9,1065.8 L1571.8,1064.8 L1573.6,1063.8 L1575.5,1062.9 L1577.3,1061.9 L1579.2,1060.9 L1581.1,1059.9 L1582.9,1059.0 L1584.8,1058.0 L1586.6,1057.1 L1588.5,1056.1 L1590.4,1055.1 L1592.2,1054.2 L1594.1,1053.2 L1595.9,1052.2 L1597.8,1051.2 L1599.7,1050.2 L1601.5,1049.2 L1603.4,1048.1 L1605.3,1047.1 L1607.1,1046.0 L1609.0,1044.9 L1610.9,1043.8 L1612.7,1042.7 L1614.6,1041.5 L1616.5,1040.4 L1618.3,1039.3 L1620.2,1038.1 L1622.0,1037.0 L1623.9,1035.8 L1625.8,1034.6 L1627.6,1033.5 L1629.5,1032.3 L1631.4,1031.1 L1633.2,1029.9 L1635.1,1028.7 L1637.0,1027.5 L1638.8,1026.3 L1640.7,1025.1 L1642.5,1023.8 L1644.4,1022.6 L1646.2,1021.3 L1648.1,1020.0 L1650.0,1018.7 L1651.9,1017.3 L1653.8,1016.0 L1655.7,1014.6 L1657.6,1013.2 L1659.5,1011.8 L1661.4,1010.4 L1663.2,1009.0 L1665.0,1007.6 L1666.8,1006.1 L1668.5,1004.6 L1670.1,1003.1 L1671.6,1001.5 L1673.1,999.8 L1674.5,998.1 L1675.9,996.4 L1677.3,994.7 L1678.7,993.0 L1680.1,991.4 L1681.6,989.9 L1683.1,988.5 L1684.6,987.3 L1686.3,986.2 L1687.9,985.4 L1689.6,984.7 L1691.3,984.1 L1693.0,983.7 L1694.8,983.3 L1696.6,983.0 L1698.4,982.7 L1700.3,982.4 L1702.1,982.2 L1703.9,981.9 L1705.7,981.6 L1707.5,981.2 L1707.5,981.3 L1708.9,978.9 L1710.3,976.5 L1711.7,974.0 L1713.1,971.6 L1714.5,969.2 L1715.9,966.7 L1717.3,964.3 L1718.6,961.9 L1720.0,959.4 L1721.4,957.0 L1722.7,954.5 L1724.1,952.1 L1725.4,949.6 L1726.8,947.2 L1728.1,944.7 L1729.4,942.3 L1730.8,939.8 L1732.1,937.4 L1733.4,934.9 L1734.7,932.4 L1736.0,930.0 L1737.3,927.5 L1738.6,925.0 L1739.9,922.6 L1741.2,920.1 L1742.5,917.6 L1743.8,915.1 L1745.0,912.7 L1746.3,910.2 L1747.6,907.7 L1748.9,905.2 L1750.1,902.7 L1751.4,900.2 L1752.6,897.8 L1753.9,895.3 L1755.1,892.8 L1756.3,890.3 L1757.6,887.8 L1758.8,885.3 L1760.0,882.8 L1761.3,880.3 L1762.5,877.8 L1763.7,875.3 L1764.9,872.8 L1766.1,870.2 L1767.3,867.7 L1768.5,865.2 L1769.7,862.7 L1770.9,860.2 L1772.1,857.7 L1773.2,855.1 L1774.4,852.6 L1775.6,850.1 L1776.7,847.6 L1777.9,845.0 L1779.1,842.5 L1780.2,840.0 L1781.4,837.4 L1782.5,834.9 L1783.7,832.4 L1784.8,829.8 L1785.9,827.3 L1787.1,824.8 L1788.2,822.2 L1789.3,819.7 L1790.5,817.1 L1791.6,814.6 L1792.7,812.0 L1793.8,809.5 L1794.9,806.9 L1796.0,804.4 L1797.1,801.8 L1798.2,799.3 L1799.3,796.7 L1800.4,794.1 L1801.5,791.6 L1802.5,789.0 L1803.6,786.4 L1804.7,783.9 L1805.8,781.3 L1806.8,778.7 L1807.9,776.2 L1809.0,773.6 L1810.0,771.0 L1811.1,768.5 L1812.1,765.9 L1813.2,763.3 L1814.2,760.7 L1815.3,758.1 L1816.3,755.6 L1817.3,753.0 L1818.4,750.4 L1819.4,747.8 L1820.4,745.2 L1821.4,742.6 L1822.4,740.0 L1823.5,737.4 L1824.5,734.9 L1825.5,732.3 L1826.5,729.7 L1827.5,727.1 L1828.5,724.5 L1829.5,721.9 L1830.5,719.3 L1831.5,716.7 L1832.5,714.1 L1833.4,711.5 L1834.4,708.9 L1835.4,706.3 L1836.4,703.7 L1837.4,701.0 L1838.3,698.4 L1839.3,695.8 L1840.3,693.2 L1841.2,690.6 L1842.2,688.0 L1843.1,685.4 L1844.1,682.8 L1845.0,680.1 L1846.0,677.5 L1846.9,674.9 L1847.9,672.3 L1848.8,669.7 L1849.8,667.0 L1850.7,664.4 L1851.6,661.8 L1852.5,659.2 L1853.5,656.5 L1854.4,653.9 L1855.3,651.3 L1856.2,648.6 L1857.2,646.0 L1858.1,643.4 L1859.0,640.8 L1859.9,638.1 L1860.8,635.5 L1861.7,632.8 L1862.6,630.2 L1863.5,627.6 L1864.4,624.9 L1865.3,622.3 L1866.2,619.7 L1867.1,617.0 L1868.0,614.4 L1868.9,611.7 L1869.8,609.1 L1870.6,606.4 L1871.5,603.8 L1872.4,601.2 L1873.3,598.5 L1874.1,595.9 L1875.0,593.2 L1875.9,590.6 L1876.8,587.9 L1877.6,585.3 L1878.5,582.6 L1879.3,580.0 L1880.2,577.3 L1881.1,574.7 L1881.9,572.0 L1882.8,569.3 L1883.6,566.7 L1884.5,564.0 L1885.3,561.4 L1886.2,558.7 L1887.0,556.1 L1887.9,553.4 L1888.7,550.7 L1889.5,548.1 L1890.4,545.4 L1891.2,542.8 L1892.0,540.1 L1892.9,537.4 L1893.7,534.8 L1894.5,532.1 L1895.4,529.4 L1896.2,526.8 L1897.0,524.1 L1897.8,521.5 L1898.7,518.8 L1899.5,516.1 L1900.3,513.4 L1901.1,510.8 L1901.9,508.1 L1902.8,505.4 L1903.6,502.8 L1904.4,500.1 L1905.2,497.4 L1906.0,494.8 L1906.8,492.1 L1907.6,489.4 L1908.4,486.8 L1909.2,484.1 L1910.0,481.4 L1910.8,478.7 L1911.6,476.1 L1912.4,473.4 L1913.2,470.7 L1914.0,468.0 L1914.8,465.4 L1915.6,462.7 L1916.4,460.0 L1917.2,457.3 L1918.0,454.7 L1918.8,452.0 L1919.6,449.3 L1920.3,446.6 L1921.1,444.0 L1921.9,441.3 L1922.7,438.6 L1923.5,435.9 L1924.3,433.2 L1925.0,430.6 L1925.8,427.9 L1926.6,425.2 L1927.4,422.5 L1928.2,419.9 L1928.9,417.2 L1929.7,414.5 L1930.5,411.8 L1931.3,409.1 L1932.0,406.5 L1932.8,403.8 L1933.6,401.1 L1934.4,398.4 L1935.1,395.7 L1935.9,393.1 L1936.7,390.4 L1937.4,387.7 L1938.2,385.0 L1939.0,382.3 L1939.8,379.7 L1940.5,377.0 L1941.3,374.3 L1942.1,371.6 L1942.8,368.9 L1943.6,366.3 L1944.4,363.6 L1945.1,360.9 L1945.9,358.2 L1946.7,355.5 L1947.4,352.8 L1948.2,350.2 L1948.9,347.5 L1949.7,344.8 L1950.5,342.1 L1951.2,339.5 L1952.0,336.8 L1952.8,334.1 L1953.5,331.4 L1954.3,328.7 L1955.0,326.1 L1955.8,323.4 L1956.6,320.7 L1957.3,318.0 L1958.1,315.3 L1958.9,312.7 L1959.6,310.0 L1960.4,307.3 L1961.1,304.6 L1961.9,302.0 L1962.7,299.3 L1963.4,296.6 L1964.2,293.9 L1964.9,291.2 L1965.7,288.6 L1966.5,285.9 L1967.2,283.2 L1968.0,280.5 L1968.8,277.9 L1969.5,275.2 L1970.3,272.5 L1971.1,269.9 L1971.8,267.2 L1972.6,264.5 L1973.3,261.8 L1974.1,259.2 L1974.9,256.5 L1975.6,253.8 L1976.4,251.1 L1977.2,248.5 L1977.9,245.8 L1978.7,243.1 L1979.5,240.5 L1980.2,237.8 L1981.0,235.1 L1981.8,232.5 L1982.5,229.8 L1983.3,227.1 L1984.1,224.5 L1984.9,221.8 L1985.6,219.1 L1986.4,216.5 L1987.2,213.8 L1988.0,211.1 L1988.7,208.5 L1989.5,205.8 L1990.3,203.2 L1991.1,200.5" fill="none" stroke="#f00" stroke-width="6.0" stroke-linejoin="round"/>
<path d="M1275.6,1154.7 L1277.0,1154.0 L1278.4,1153.4 L1279.7,1152.7 L1281.1,1152.1 L1282.4,1151.4 L1283.8,1150.8 L1285.2,1150.1 L1286.5,1149.5 L1287.9,1148.8 L1289.4,1148.2 L1290.8,1147.5 L1292.3,1146.9 L1294.0,1146.1 L1295.8,1145.4 L1297.6,1144.6 L1299.5,1143.8 L1301.3,1143.0 L1303.2,1142.2 L1305.1,1141.4 L1307.0,1140.7 L1308.9,1140.0 L1310.8,1139.3 L1312.7,1138.6 L1314.6,1138.0 L1316.4,1137.4 L1318.3,1136.9 L1320.1,1136.5 L1322.0,1136.0 L1323.9,1135.6 L1325.7,1135.2 L1327.6,1134.8 L1329.4,1134.4 L1331.3,1134.0 L1333.2,1133.7 L1335.0,1133.3 L1336.9,1132.9 L1338.8,1132.5 L1340.6,1132.1 L1342.5,1131.8 L1344.3,1131.4 L1346.2,1131.0 L1348.0,1130.7 L1349.9,1130.3 L1351.8,1129.9 L1353.6,1129.6 L1355.5,1129.2 L1357.3,1128.9 L1359.2,1128.5 L1361.1,1128.1 L1362.9,1127.7 L1364.8,1127.4 L1366.6,1127.0 L1368.5,1126.6 L1370.3,1126.2 L1372.2,1125.8 L1374.1,1125.5 L1375.9,1125.1 L1377.8,1124.7 L1379.6,1124.4 L1381.5,1124.0 L1383.4,1123.7 L1385.2,1123.3 L1387.1,1123.0 L1389.0,1122.7 L1390.8,1122.3 L1392.7,1122.0 L1394.6,1121.7 L1396.4,1121.4 L1398.3,1121.1 L1400.2,1120.7 L1402.0,1120.4 L1403.9,1120.1 L1405.8,1119.8 L1407.6,1119.5 L1409.5,1119.2 L1411.3,1118.8 L1413.2,1118.5 L1415.1,1118.2 L1416.9,1117.9 L1418.8,1117.6 L1420.6,1117.3 L1422.5,1116.9 L1424.3,1116.6 L1426.2,1116.2 L1428.1,1115.8 L1429.9,1115.4 L1431.8,1115.1 L1433.6,1114.7 L1435.5,1114.2 L1437.4,1113.8 L1439.2,1113.4 L1441.1,1113.0 L1442.9,1112.6 L1444.8,1112.1 L1446.6,1111.7 L1448.5,1111.2 L1450.4,1110.7 L1452.2,1110.2 L1454.1,1109.7 L1456.0,1109.2 L1457.9,1108.7 L1459.8,1108.2 L1461.6,1107.7 L1463.5,1107.1 L1465.3,1106.6 L1467.2,1106.1 L1469.0,1105.6 L1470.8,1105.1 L1472.4,1104.7 L1474.1,1104.3 L1475.7,1103.9 L1477.3,1103.5 L1478.9,1103.1 L1480.4,1102.7 L1482.0,1102.3 L1483.6,1101.9 L1485.2,1101.5 L1486.8,1101.0 L1488.4,1100.5 L1490.0,1100.0 L1491.8,1099.3 L1493.6,1098.6 L1495.5,1097.9 L1497.3,1097.1 L1499.2,1096.3 L1501.1,1095.5 L1502.9,1094.6 L1504.8,1093.8 L1506.7,1092.9 L1508.6,1092.1 L1510.4,1091.3 L1512.3,1090.5 L1514.2,1089.7 L1516.0,1089.0 L1517.9,1088.2 L1519.7,1087.5 L1521.6,1086.8 L1523.5,1086.1 L1525.3,1085.3 L1527.2,1084.6 L1529.0,1083.8 L1530.9,1083.1 L1532.8,1082.3 L1534.6,1081.5 L1536.5,1080.7 L1538.3,1079.8 L1540.2,1079.0 L1542.1,1078.1 L1543.9,1077.2 L1545.8,1076.3 L1547.6,1075.5 L1549.5,1074.6 L1551.3,1073.7 L1553.2,1072.8 L1555.0,1071.9 L1556.9,1071.0 L1558.8,1070.1 L1560.6,1069.2 L1562.5,1068.3 L1564.3,1067.4 L1566.2,1066.5 L1568.0,1065.6 L1569.9,1064.7 L1571.8,1063.9 L1573.6,1063.0 L1575.5,1062.1 L1577.3,1061.2 L1579.2,1060.4 L1581.1,1059.6 L1582.9,1058.8 L1584.8,1058.0 L1586.6,1057.2 L1588.5,1056.4 L1590.3,1055.6 L1592.2,1054.8 L1594.1,1054.1 L1595.9,1053.3 L1597.8,1052.5 L1599.6,1051.7 L1601.5,1050.9 L1603.4,1050.1 L1605.3,1049.2 L1607.2,1048.3 L1609.1,1047.5 L1611.0,1046.6 L1612.9,1045.7 L1614.8,1044.8 L1616.7,1044.0 L1618.5,1043.1 L1620.3,1042.3 L1622.1,1041.5 L1623.9,1040.8 L1625.4,1040.2 L1626.8,1039.6 L1628.2,1039.1 L1629.6,1038.5 L1631.0,1038.0 L1632.4,1037.5 L1633.7,1037.0 L1635.1,1036.5 L1636.5,1036.0 L1637.8,1035.6 L1639.2,1035.1 L1640.6,1034.7 L1642.0,1034.3 L1643.3,1033.9 L1644.7,1033.6 L1646.1,1033.2 L1647.4,1032.9 L1648.8,1032.6 L1650.1,1032.3 L1651.5,1032.0 L1652.9,1031.7 L1654.4,1031.4 L1655.8,1031.1 L1657.3,1030.8 L1659.0,1030.5 L1660.8,1030.2 L1662.6,1029.9 L1664.4,1029.6 L1666.2,1029.4 L1668.0,1029.1 L1669.9,1028.8 L1671.8,1028.6 L1673.7,1028.3 L1675.7,1028.0 L1677.6,1027.7 L1679.6,1027.4 L1681.9,1027.0 L1684.3,1026.6 L1686.8,1026.1 L1689.2,1025.7 L1691.8,1025.2 L1694.3,1024.8 L1696.8,1024.3 L1699.4,1023.8 L1701.9,1023.3 L1704.5,1022.8 L1707.0,1022.4 L1709.5,1021.9 L1708.9,1021.7 L1710.4,1019.3 L1711.8,1016.9 L1713.2,1014.5 L1714.6,1012.1 L1716.0,1009.7 L1717.4,1007.2 L1718.8,1004.8 L1720.1,1002.4 L1721.5,1000.0 L1722.9,997.6 L1724.3,995.1 L1725.6,992.7 L1727.0,990.3 L1728.3,987.8 L1729.7,985.4 L1731.0,983.0 L1732.4,980.5 L1733.7,978.1 L1735.0,975.7 L1736.4,973.2 L1737.7,970.8 L1739.0,968.3 L1740.3,965.9 L1741.6,963.4 L1742.9,961.0 L1744.2,958.5 L1745.5,956.0 L1746.8,953.6 L1748.1,951.1 L1749.4,948.6 L1750.6,946.2 L1751.9,943.7 L1753.2,941.2 L1754.4,938.8 L1755.7,936.3 L1756.9,933.8 L1758.2,931.3 L1759.4,928.9 L1760.7,926.4 L1761.9,923.9 L1763.1,921.4 L1764.4,918.9 L1765.6,916.4 L1766.8,913.9 L1768.0,911.4 L1769.2,908.9 L1770.4,906.4 L1771.6,904.0 L1772.8,901.4 L1774.0,898.9 L1775.2,896.4 L1776.4,893.9 L1777.6,891.4 L1778.7,888.9 L1779.9,886.4 L1781.1,883.9 L1782.2,881.4 L1783.4,878.9 L1784.6,876.3 L1785.7,873.8 L1786.9,871.3 L1788.0,868.8 L1789.1,866.3 L1790.3,863.7 L1791.4,861.2 L1792.5,858.7 L1793.7,856.1 L1794.8,853.6 L1795.9,851.1 L1797.0,848.5 L1798.1,846.0 L1799.2,843.5 L1800.3,840.9 L1801.4,838.4 L1802.5,835.8 L1803.6,833.3 L1804.7,830.7 L1805.8,828.2 L1806.9,825.6 L1807.9,823.1 L1809.0,820.5 L1810.1,818.0 L1811.2,815.4 L1812.2,812.9 L1813.3,810.3 L1814.3,807.7 L1815.4,805.2 L1816.4,802.6 L1817.5,800.0 L1818.5,797.5 L1819.6,794.9 L1820.6,792.3 L1821.6,789.8 L1822.6,787.2 L1823.7,784.6 L1824.7,782.1 L1825.7,779.5 L1826.7,776.9 L1827.7,774.3 L1828.7,771.7 L1829.7,769.2 L1830.8,766.6 L1831.8,764.0 L1832.7,761.4 L1833.7,758.8 L1834.7,756.2 L1835.7,753.6 L1836.7,751.0 L1837.7,748.5 L1838.7,745.9 L1839.6,743.3 L1840.6,740.7 L1841.6,738.1 L1842.5,735.5 L1843.5,732.9 L1844.5,730.3 L1845.4,727.7 L1846.4,725.1 L1847.3,722.5 L1848.3,719.9 L1849.2,717.3 L1850.2,714.7 L1851.1,712.0 L1852.0,709.4 L1853.0,706.8 L1853.9,704.2 L1854.8,701.6 L1855.8,699.0 L1856.7,696.4 L1857.6,693.8 L1858.5,691.1 L1859.4,688.5 L1860.3,685.9 L1861.3,683.3 L1862.2,680.7 L1863.1,678.0 L1864.0,675.4 L1864.9,672.8 L1865.8,670.2 L1866.7,667.6 L1867.6,664.9 L1868.5,662.3 L1869.3,659.7 L1870.2,657.0 L1871.1,654.4 L1872.0,651.8 L1872.9,649.1 L1873.8,646.5 L1874.6,643.9 L1875.5,641.2 L1876.4,638.6 L1877.2,636.0 L1878.1,633.3 L1879.0,630.7 L1879.8,628.1 L1880.7,625.4 L1881.5,622.8 L1882.4,620.1 L1883.3,617.5 L1884.1,614.9 L1885.0,612.2 L1885.8,609.6 L1886.6,606.9 L1887.5,604.3 L1888.3,601.6 L1889.2,599.0 L1890.0,596.3 L1890.8,593.7 L1891.7,591.0 L1892.5,588.4 L1893.3,585.7 L1894.2,583.1 L1895.0,580.4 L1895.8,577.8 L1896.6,575.1 L1897.5,572.5 L1898.3,569.8 L1899.1,567.2 L1899.9,564.5 L1900.7,561.9 L1901.5,559.2 L1902.3,556.6 L1903.1,553.9 L1904.0,551.2 L1904.8,548.6 L1905.6,545.9 L1906.4,543.3 L1907.2,540.6 L1908.0,537.9 L1908.8,535.3 L1909.6,532.6 L1910.4,530.0 L1911.1,527.3 L1911.9,524.6 L1912.7,522.0 L1913.5,519.3 L1914.3,516.6 L1915.1,514.0 L1915.9,511.3 L1916.7,508.7 L1917.4,506.0 L1918.2,503.3 L1919.0,500.7 L1919.8,498.0 L1920.6,495.3 L1921.3,492.7 L1922.1,490.0 L1922.9,487.3 L1923.7,484.7 L1924.4,482.0 L1925.2,479.3 L1926.0,476.6 L1926.7,474.0 L1927.5,471.3 L1928.3,468.6 L1929.0,466.0 L1929.8,463.3 L1930.6,460.6 L1931.3,458.0 L1932.1,455.3 L1932.9,452.6 L1933.6,449.9 L1934.4,447.3 L1935.1,444.6 L1935.9,441.9 L1936.6,439.3 L1937.4,436.6 L1938.2,433.9 L1938.9,431.2 L1939.7,428.6 L1940.4,425.9 L1941.2,423.2 L1941.9,420.6 L1942.7,417.9 L1943.4,415.2 L1944.2,412.5 L1944.9,409.9 L1945.7,407.2 L1946.4,404.5 L1947.2,401.9 L1947.9,399.2 L1948.7,396.5 L1949.4,393.8 L1950.1,391.2 L1950.9,388.5 L1951.6,385.8 L1952.4,383.2 L1953.1,380.5 L1953.9,377.8 L1954.6,375.1 L1955.3,372.5 L1956.1,369.8 L1956.8,367.1 L1957.6,364.4 L1958.3,361.8 L1959.1,359.1 L1959.8,356.4 L1960.5,353.8 L1961.3,351.1 L1962.0,348.4 L1962.8,345.8 L1963.5,343.1 L1964.2,340.4 L1965.0,337.7 L1965.7,335.1 L1966.5,332.4 L1967.2,329.7 L1967.9,327.1 L1968.7,324.4 L1969.4,321.7 L1970.2,319.1 L1970.9,316.4 L1971.6,313.7 L1972.4,311.1 L1973.1,308.4 L1973.9,305.7 L1974.6,303.1 L1975.3,300.4 L1976.1,297.7 L1976.8,295.1 L1977.6,292.4 L1978.3,289.7 L1979.0,287.1 L1979.8,284.4 L1980.5,281.8 L1981.3,279.1 L1982.0,276.4 L1982.8,273.8 L1983.5,271.1 L1984.2,268.5 L1985.0,265.8 L1985.7,263.1 L1986.5,260.5 L1987.2,257.8 L1988.0,255.2 L1988.7,252.5 L1989.5,249.8 L1990.2,247.2 L1991.0,244.5" fill="none" stroke="#00f" stroke-width="6.0" stroke-linejoin="round"/>
<path d="M1275.6,1249.0 L1277.0,1248.9 L1278.4,1248.7 L1279.7,1248.6 L1281.1,1248.4 L1282.4,1248.3 L1283.8,1248.2 L1285.2,1248.0 L1286.6,1247.9 L1288.0,1247.7 L1289.4,1247.6 L1290.8,1247.5 L1292.3,1247.3 L1294.0,1247.1 L1295.8,1246.9 L1297.6,1246.8 L1299.5,1246.6 L1301.4,1246.4 L1303.3,1246.2 L1305.1,1246.0 L1307.0,1245.8 L1309.0,1245.6 L1310.8,1245.4 L1312.7,1245.2 L1314.6,1245.0 L1316.5,1244.8 L1318.3,1244.6 L1320.2,1244.4 L1322.0,1244.1 L1323.9,1243.9 L1325.8,1243.7 L1327.6,1243.5 L1329.5,1243.2 L1331.3,1243.0 L1333.2,1242.8 L1335.0,1242.5 L1336.9,1242.3 L1338.8,1242.1 L1340.6,1241.9 L1342.5,1241.6 L1344.3,1241.4 L1346.2,1241.2 L1348.1,1241.0 L1349.9,1240.8 L1351.8,1240.6 L1353.6,1240.3 L1355.5,1240.1 L1357.3,1239.8 L1359.2,1239.5 L1361.1,1239.2 L1362.9,1238.9 L1364.8,1238.5 L1366.6,1238.1 L1368.5,1237.8 L1370.4,1237.4 L1372.2,1237.0 L1374.1,1236.6 L1375.9,1236.2 L1377.8,1235.8 L1379.6,1235.4 L1381.5,1235.0 L1383.4,1234.6 L1385.2,1234.2 L1387.1,1233.8 L1389.0,1233.4 L1390.8,1232.9 L1392.7,1232.5 L1394.6,1232.1 L1396.4,1231.6 L1398.3,1231.2 L1400.2,1230.8 L1402.0,1230.4 L1403.9,1230.0 L1405.8,1229.6 L1407.6,1229.2 L1409.5,1228.9 L1411.3,1228.5 L1413.2,1228.2 L1415.1,1227.8 L1416.9,1227.5 L1418.8,1227.1 L1420.6,1226.7 L1422.5,1226.3 L1424.3,1225.9 L1426.2,1225.5 L1428.1,1225.1 L1429.9,1224.6 L1431.8,1224.1 L1433.7,1223.6 L1435.5,1223.2 L1437.4,1222.6 L1439.2,1222.1 L1441.1,1221.6 L1442.9,1221.1 L1444.8,1220.5 L1446.7,1220.0 L1448.5,1219.4 L1450.4,1218.8 L1452.2,1218.2 L1454.1,1217.6 L1456.0,1216.9 L1457.8,1216.3 L1459.7,1215.6 L1461.5,1214.9 L1463.4,1214.3 L1465.2,1213.6 L1467.1,1212.9 L1468.9,1212.3 L1470.8,1211.6 L1472.7,1210.9 L1474.5,1210.3 L1476.4,1209.6 L1478.2,1209.0 L1480.1,1208.3 L1482.0,1207.7 L1483.8,1207.0 L1485.7,1206.4 L1487.5,1205.7 L1489.4,1205.1 L1491.2,1204.4 L1493.1,1203.8 L1494.9,1203.2 L1496.7,1202.6 L1498.6,1202.0 L1500.4,1201.4 L1502.2,1200.8 L1504.0,1200.2 L1505.8,1199.6 L1507.6,1199.0 L1509.4,1198.4 L1511.3,1197.8 L1513.1,1197.1 L1515.0,1196.5 L1517.0,1195.8 L1519.0,1195.1 L1521.0,1194.3 L1523.0,1193.6 L1525.0,1192.9 L1527.1,1192.1 L1529.1,1191.3 L1531.2,1190.6 L1533.3,1189.8 L1535.5,1189.0 L1537.7,1188.3 L1540.0,1187.5 L1542.9,1186.5 L1546.0,1185.5 L1549.2,1184.5 L1552.4,1183.4 L1555.8,1182.4 L1559.1,1181.3 L1562.5,1180.3 L1565.8,1179.3 L1569.0,1178.4 L1572.1,1177.5 L1575.2,1176.7 L1578.0,1176.0 L1580.0,1175.5 L1581.9,1175.1 L1583.7,1174.7 L1585.5,1174.3 L1587.2,1173.9 L1588.9,1173.6 L1590.6,1173.3 L1592.4,1173.0 L1594.2,1172.7 L1596.0,1172.5 L1597.9,1172.2 L1600.0,1172.0 L1602.9,1171.7 L1606.0,1171.5 L1609.3,1171.2 L1612.6,1171.1 L1616.1,1170.9 L1619.5,1170.8 L1623.1,1170.7 L1626.6,1170.6 L1630.1,1170.5 L1633.5,1170.5 L1636.8,1170.5 L1640.0,1170.5 L1642.7,1170.5 L1645.4,1170.5 L1648.0,1170.6 L1650.6,1170.6 L1653.2,1170.6 L1655.7,1170.7 L1658.3,1170.8 L1660.8,1171.0 L1663.4,1171.1 L1666.0,1171.3 L1668.7,1171.6 L1671.5,1171.9 L1674.8,1172.3 L1678.2,1172.8 L1681.6,1173.4 L1685.1,1174.0 L1688.6,1174.7 L1692.1,1175.4 L1695.7,1176.2 L1699.3,1176.9 L1702.9,1177.7 L1706.4,1178.4 L1710.0,1179.1 L1713.5,1179.8 L1713.0,1179.6 L1714.6,1176.7 L1716.2,1173.9 L1717.8,1171.0 L1719.4,1168.1 L1721.0,1165.3 L1722.6,1162.4 L1724.1,1159.5 L1725.7,1156.6 L1727.2,1153.7 L1728.7,1150.8 L1730.3,1147.9 L1731.8,1145.0 L1733.3,1142.1 L1734.8,1139.2 L1736.2,1136.2 L1737.7,1133.3 L1739.2,1130.4 L1740.6,1127.5 L1742.0,1124.5 L1743.5,1121.6 L1744.9,1118.6 L1746.3,1115.7 L1747.7,1112.7 L1749.1,1109.8 L1750.5,1106.8 L1751.8,1103.8 L1753.2,1100.9 L1754.5,1097.9 L1755.9,1094.9 L1757.2,1091.9 L1758.5,1089.0 L1759.8,1086.0 L1761.2,1083.0 L1762.4,1080.0 L1763.7,1077.0 L1765.0,1074.0 L1766.3,1071.0 L1767.5,1068.0 L1768.8,1065.0 L1770.0,1061.9 L1771.2,1058.9 L1772.4,1055.9 L1773.7,1052.9 L1774.8,1049.8 L1776.0,1046.8 L1777.2,1043.8 L1778.4,1040.7 L1779.6,1037.7 L1780.7,1034.6 L1781.9,1031.6 L1783.0,1028.5 L1784.1,1025.4 L1785.2,1022.4 L1786.3,1019.3 L1787.4,1016.2 L1788.5,1013.2 L1789.6,1010.1 L1790.7,1007.0 L1791.8,1003.9 L1792.8,1000.9 L1793.9,997.8 L1794.9,994.7 L1795.9,991.6 L1797.0,988.5 L1798.0,985.4 L1799.0,982.3 L1800.0,979.2 L1801.0,976.1 L1801.9,972.9 L1802.9,969.8 L1803.9,966.7 L1804.8,963.6 L1805.8,960.5 L1806.7,957.3 L1807.7,954.2 L1808.6,951.1 L1809.5,947.9 L1810.4,944.8 L1811.3,941.7 L1812.2,938.5 L1813.1,935.4 L1814.0,932.2 L1814.9,929.1 L1815.7,925.9 L1816.6,922.8 L1817.5,919.6 L1818.3,916.5 L1819.2,913.3 L1820.0,910.2 L1820.8,907.0 L1821.7,903.9 L1822.5,900.7 L1823.4,897.5 L1824.2,894.4 L1825.0,891.2 L1825.8,888.0 L1826.7,884.9 L1827.5,881.7 L1828.3,878.5 L1829.1,875.4 L1829.9,872.2 L1830.7,869.0 L1831.6,865.9 L1832.4,862.7 L1833.2,859.5 L1834.0,856.4 L1834.8,853.2 L1835.6,850.0 L1836.4,846.9 L1837.3,843.7 L1838.1,840.5 L1838.9,837.4 L1839.7,834.2 L1840.5,831.0 L1841.4,827.9 L1842.2,824.7 L1843.0,821.6 L1843.9,818.4 L1844.7,815.2 L1845.5,812.1 L1846.4,808.9 L1847.2,805.8 L1848.1,802.6 L1848.9,799.5 L1849.8,796.3 L1850.7,793.2 L1851.5,790.0 L1852.4,786.9 L1853.3,783.8 L1854.2,780.6 L1855.1,777.5 L1856.0,774.4 L1856.9,771.2 L1857.8,768.1 L1858.8,765.0 L1859.7,761.9 L1860.6,758.8 L1861.6,755.7 L1862.5,752.5 L1863.5,749.4 L1864.5,746.3 L1865.5,743.2 L1866.5,740.1 L1867.5,737.0 L1868.5,734.0 L1869.5,730.9 L1870.5,727.8 L1871.6,724.7 L1872.6,721.6 L1873.7,718.6 L1874.8,715.5 L1875.9,712.4 L1876.9,709.4 L1878.0,706.3 L1879.1,703.3 L1880.2,700.2 L1881.2,697.1 L1882.2,694.0 L1883.3,691.0 L1884.3,687.9 L1885.3,684.8 L1886.3,681.7 L1887.2,678.6 L1888.2,675.5 L1889.2,672.4 L1890.1,669.3 L1891.0,666.2 L1892.0,663.1 L1892.9,660.0 L1893.8,656.8 L1894.7,653.7 L1895.6,650.6 L1896.5,647.5 L1897.4,644.3 L1898.2,641.2 L1899.1,638.1 L1900.0,634.9 L1900.8,631.8 L1901.7,628.7 L1902.6,625.5 L1903.4,622.4 L1904.3,619.2 L1905.1,616.1 L1905.9,612.9 L1906.8,609.8 L1907.6,606.6 L1908.5,603.5 L1909.3,600.3 L1910.1,597.2 L1910.9,594.0 L1911.8,590.9 L1912.6,587.7 L1913.4,584.5 L1914.2,581.4 L1915.0,578.2 L1915.8,575.1 L1916.6,571.9 L1917.4,568.7 L1918.2,565.6 L1919.0,562.4 L1919.8,559.2 L1920.6,556.0 L1921.4,552.9 L1922.2,549.7 L1923.0,546.5 L1923.8,543.3 L1924.5,540.2 L1925.3,537.0 L1926.1,533.8 L1926.9,530.6 L1927.6,527.5 L1928.4,524.3 L1929.2,521.1 L1929.9,517.9 L1930.7,514.7 L1931.5,511.5 L1932.2,508.4 L1933.0,505.2 L1933.7,502.0 L1934.5,498.8 L1935.2,495.6 L1936.0,492.4 L1936.7,489.2 L1937.5,486.1 L1938.2,482.9 L1938.9,479.7 L1939.7,476.5 L1940.4,473.3 L1941.2,470.1 L1941.9,466.9 L1942.6,463.7 L1943.4,460.5 L1944.1,457.3 L1944.8,454.1 L1945.5,450.9 L1946.3,447.8 L1947.0,444.6 L1947.7,441.4 L1948.4,438.2 L1949.2,435.0 L1949.9,431.8 L1950.6,428.6 L1951.3,425.4 L1952.0,422.2 L1952.7,419.0 L1953.4,415.8 L1954.2,412.6 L1954.9,409.4 L1955.6,406.2 L1956.3,403.0 L1957.0,399.9 L1957.7,396.7 L1958.4,393.5 L1959.1,390.3 L1959.8,387.1 L1960.5,383.9 L1961.2,380.7 L1961.9,377.5 L1962.6,374.3 L1963.3,371.1 L1964.0,367.9 L1964.7,364.7 L1965.4,361.6 L1966.1,358.4 L1966.8,355.2 L1967.5,352.0 L1968.2,348.8 L1968.9,345.6 L1969.6,342.4 L1970.3,339.3 L1971.0,336.1 L1971.7,332.9 L1972.4,329.7 L1973.1,326.5 L1973.8,323.3 L1974.5,320.2 L1975.2,317.0 L1975.9,313.8 L1976.6,310.6 L1977.3,307.4 L1978.0,304.3 L1978.6,301.1 L1979.3,297.9 L1980.0,294.7 L1980.7,291.6 L1981.4,288.4 L1982.1,285.2 L1982.8,282.1 L1983.5,278.9 L1984.2,275.7 L1984.9,272.6 L1985.6,269.4 L1986.3,266.2 L1987.0,263.1 L1987.7,259.9 L1988.4,256.8 L1989.1,253.6 L1989.8,250.4 L1990.5,247.3" fill="none" stroke="#f0f" stroke-width="6.0" stroke-linejoin="round"/>
</g>
<rect x="282.0" y="84.2" width="715.3" height="1339.1" fill="none" stroke="#000" stroke-width="5.2" stroke-linejoin="round"/>
<rect x="1274.4" y="84.5" width="715.3" height="1338.8" fill="none" stroke="#000" stroke-width="5.2" stroke-linejoin="round"/>
<line x1="353.5" y1="1423.3" x2="353.5" y2="1397.8" stroke="#000" stroke-width="4.6"/>
<line x1="568.1" y1="1423.3" x2="568.1" y2="1397.8" stroke="#000" stroke-width="4.6"/>
<line x1="782.7" y1="1423.3" x2="782.7" y2="1397.8" stroke="#000" stroke-width="4.6"/>
<line x1="460.8" y1="1423.3" x2="460.8" y2="1408.8" stroke="#000" stroke-width="4.6"/>
<line x1="675.4" y1="1423.3" x2="675.4" y2="1408.8" stroke="#000" stroke-width="4.6"/>
<line x1="890.0" y1="1423.3" x2="890.0" y2="1408.8" stroke="#000" stroke-width="4.6"/>
<line x1="282.0" y1="1232.0" x2="306.0" y2="1232.0" stroke="#000" stroke-width="4.6"/>
<line x1="282.0" y1="849.4" x2="306.0" y2="849.4" stroke="#000" stroke-width="4.6"/>
<line x1="282.0" y1="466.8" x2="306.0" y2="466.8" stroke="#000" stroke-width="4.6"/>
<line x1="282.0" y1="1040.7" x2="297.5" y2="1040.7" stroke="#000" stroke-width="4.6"/>
<line x1="282.0" y1="658.1" x2="297.5" y2="658.1" stroke="#000" stroke-width="4.6"/>
<line x1="282.0" y1="275.5" x2="297.5" y2="275.5" stroke="#000" stroke-width="4.6"/>
<line x1="1353.9" y1="1423.3" x2="1353.9" y2="1397.8" stroke="#000" stroke-width="4.6"/>
<line x1="1512.8" y1="1423.3" x2="1512.8" y2="1397.8" stroke="#000" stroke-width="4.6"/>
<line x1="1671.8" y1="1423.3" x2="1671.8" y2="1397.8" stroke="#000" stroke-width="4.6"/>
<line x1="1830.7" y1="1423.3" x2="1830.7" y2="1397.8" stroke="#000" stroke-width="4.6"/>
<line x1="1433.4" y1="1423.3" x2="1433.4" y2="1408.8" stroke="#000" stroke-width="4.6"/>
<line x1="1592.3" y1="1423.3" x2="1592.3" y2="1408.8" stroke="#000" stroke-width="4.6"/>
<line x1="1751.3" y1="1423.3" x2="1751.3" y2="1408.8" stroke="#000" stroke-width="4.6"/>
<line x1="1910.2" y1="1423.3" x2="1910.2" y2="1408.8" stroke="#000" stroke-width="4.6"/>
<text x="255.0" y="101.7" font-size="58.5" text-anchor="end">1.6</text>
<text x="255.0" y="484.3" font-size="58.5" text-anchor="end">1.2</text>
<text x="255.0" y="866.9" font-size="58.5" text-anchor="end">0.8</text>
<text x="255.0" y="1249.5" font-size="58.5" text-anchor="end">0.4</text>
<text x="352.5" y="1494.5" font-size="59.0" text-anchor="middle">315</text>
<text x="567.1" y="1494.5" font-size="59.0" text-anchor="middle">360</text>
<text x="781.7" y="1494.5" font-size="59.0" text-anchor="middle">405</text>
<text x="996.3" y="1494.5" font-size="59.0" text-anchor="middle">450</text>
<text x="1352.9" y="1494.5" font-size="59.0" text-anchor="middle">3.2</text>
<text x="1511.8" y="1494.5" font-size="59.0" text-anchor="middle">3.4</text>
<text x="1670.8" y="1494.5" font-size="59.0" text-anchor="middle">3.6</text>
<text x="1829.7" y="1494.5" font-size="59.0" text-anchor="middle">3.8</text>
<text x="1988.7" y="1494.5" font-size="59.0" text-anchor="middle">4.0</text>
<text x="307.4" y="171.2" font-size="65.0" text-anchor="start">(a)</text>
<text x="1302.6" y="167.8" font-size="65.5" text-anchor="start">(b)</text>
<rect x="372.7" y="228.3" width="553.3" height="209" fill="#fff" stroke="#333" stroke-width="2.4"/>
<line x1="372.7" y1="438.0" x2="926.0" y2="438.0" stroke="#686868" stroke-width="3.2"/>
<line x1="411" y1="260.0" x2="504" y2="260.0" stroke="#000" stroke-width="5.8" stroke-linecap="round"/>
<text transform="translate(513.9,274.0) scale(0.95,1)" font-size="42.5">Absorbance of ZZO-A</text>
<line x1="411" y1="311.5" x2="504" y2="311.5" stroke="#f00" stroke-width="5.8" stroke-linecap="round"/>
<text transform="translate(513.9,325.5) scale(0.95,1)" font-size="42.5">Absorbance of ZZO-B</text>
<line x1="411" y1="363.0" x2="504" y2="363.0" stroke="#00f" stroke-width="5.8" stroke-linecap="round"/>
<text transform="translate(513.9,377.0) scale(0.95,1)" font-size="42.5">Absorbance of ZZO-C</text>
<line x1="411" y1="414.5" x2="504" y2="414.5" stroke="#f0f" stroke-width="5.8" stroke-linecap="round"/>
<text transform="translate(513.9,428.5) scale(0.95,1)" font-size="42.5">Absorbance of ZZO-D</text>
<rect x="1293.7" y="214.4" width="608.7" height="255.4" fill="#fff" stroke="#333" stroke-width="2.4"/>
<line x1="1293.7" y1="470.4" x2="1902.4" y2="470.4" stroke="#686868" stroke-width="3.2"/>
<line x1="1328.5" y1="259.6" x2="1426" y2="259.6" stroke="#000" stroke-width="5.8" stroke-linecap="round"/>
<text transform="translate(1436,275.1) scale(0.975,1)" font-size="44.5">Eg of ZZO-A = 3.32 eV</text>
<line x1="1328.5" y1="315.1" x2="1426" y2="315.1" stroke="#f00" stroke-width="5.8" stroke-linecap="round"/>
<text transform="translate(1436,330.6) scale(0.975,1)" font-size="44.5">Eg of ZZO-B = 3.36 eV</text>
<line x1="1328.5" y1="370.6" x2="1426" y2="370.6" stroke="#00f" stroke-width="5.8" stroke-linecap="round"/>
<text transform="translate(1436,386.1) scale(0.975,1)" font-size="44.5">Eg of ZZO-C = 3.39 eV</text>
<line x1="1328.5" y1="426.1" x2="1426" y2="426.1" stroke="#f0f" stroke-width="5.8" stroke-linecap="round"/>
<text transform="translate(1436,441.6) scale(0.975,1)" font-size="44.5">Eg of ZZO-D = 3.51 eV</text>
<text x="314.6" y="1627.5" font-size="87.7" text-anchor="start">Wavelength (nm)</text>
<text x="1405.3" y="1631.0" font-size="87.7" text-anchor="start">Energy (eV)</text>
<text transform="translate(105,1109) rotate(-90)" x="0" y="0" font-size="87.5">Absorbance (a.u.)</text>
<text transform="translate(1223.95,1108.69) rotate(-90) scale(1.2265,0.9793)" font-size="100.0" style="font-weight:bold">(</text>
<text transform="translate(1224.04,1071.75) rotate(-90) scale(1.0639,0.8807)" font-size="100.0" style="font-weight:normal">α</text>
<text transform="translate(1223.30,1013.20) rotate(-90) scale(0.8041,0.8215)" font-size="100.0" style="font-weight:bold">h</text>
<text transform="translate(1223.27,963.42) rotate(-90) scale(0.9196,0.8533)" font-size="100.0" style="font-weight:normal">ν</text>
<text transform="translate(1223.95,921.40) rotate(-90) scale(1.0551,0.9793)" font-size="100.0" style="font-weight:bold">)</text>
<text transform="translate(1174.30,887.35) rotate(-90) scale(0.8698,0.8790)" font-size="100.0" style="font-weight:bold">2</text>
<text transform="translate(1223.95,841.81) rotate(-90) scale(1.0941,0.9793)" font-size="100.0" style="font-weight:bold">(</text>
<text transform="translate(1223.72,806.83) rotate(-90) scale(0.8572,0.8384)" font-size="100.0" style="font-weight:bold">e</text>
<text transform="translate(1223.68,769.19) rotate(-90) scale(0.8847,0.8732)" font-size="100.0" style="font-weight:bold">V</text>
<text transform="translate(1223.92,683.17) rotate(-90) scale(0.8395,0.8408)" font-size="100.0" style="font-weight:bold">c</text>
<text transform="translate(1224.70,644.80) rotate(-90) scale(0.8580,0.8574)" font-size="100.0" style="font-weight:bold">m</text>
<text transform="translate(1177.58,573.52) rotate(-90) scale(0.9143,0.7877)" font-size="100.0" style="font-weight:bold">−</text>
<text transform="translate(1174.50,523.40) rotate(-90) scale(0.8121,0.8862)" font-size="100.0" style="font-weight:bold">1</text>
<text transform="translate(1223.75,482.33) rotate(-90) scale(1.0941,0.9793)" font-size="100.0" style="font-weight:bold">)</text>
<text transform="translate(1174.50,446.72) rotate(-90) scale(0.8626,0.8835)" font-size="100.0" style="font-weight:bold">2</text>
</g>
</svg></body></html>
